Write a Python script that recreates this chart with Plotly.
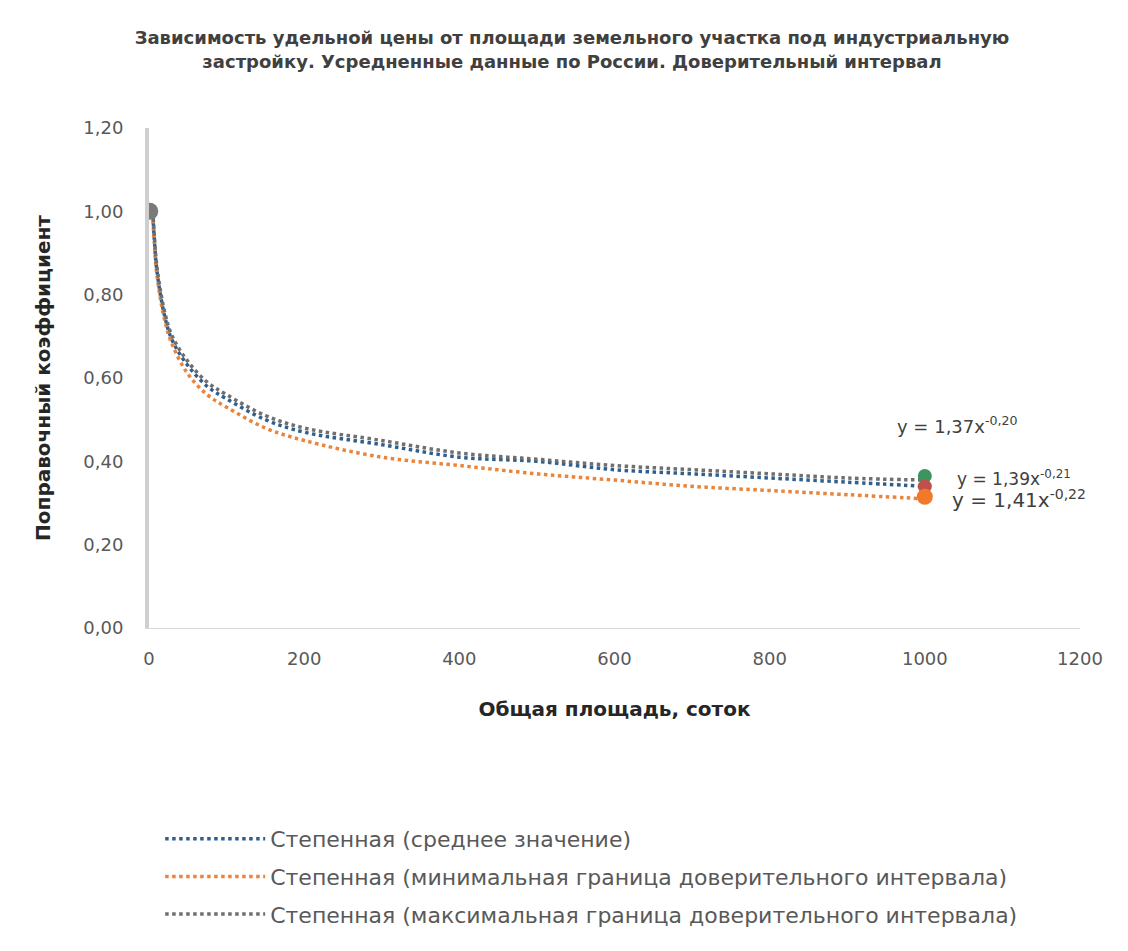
import plotly.graph_objects as go

# ---- data ----
x_trend = [5, 7, 10, 20, 30, 50, 75, 100, 150, 200, 300, 400, 500, 600, 700, 800, 900, 1000]
y_mean = [0.99, 0.93, 0.86, 0.75, 0.69, 0.63, 0.58, 0.55, 0.50, 0.47, 0.44, 0.41, 0.40, 0.38, 0.37, 0.36, 0.35, 0.34]
y_min = [0.98, 0.92, 0.85, 0.74, 0.68, 0.61, 0.56, 0.53, 0.48, 0.45, 0.41, 0.39, 0.37, 0.355, 0.34, 0.33, 0.32, 0.31]
y_max = [1.00, 0.94, 0.87, 0.76, 0.70, 0.64, 0.59, 0.56, 0.51, 0.48, 0.45, 0.42, 0.405, 0.39, 0.38, 0.37, 0.36, 0.355]

pts_x = [1, 1000, 1000, 1000]
pts_y = [1.00, 0.365, 0.34, 0.315]
pts_colors = ["#7A7A7A", "#3E9460", "#C0504D", "#F07A2A"]
pts_sizes = [17, 14, 14, 16]

series_names = [
    "Степенная (среднее значение)",
    "Степенная (минимальная граница доверительного интервала)",
    "Степенная (максимальная граница доверительного интервала)",
]
equations = ["y = 1,37x<sup>-0,20</sup>", "y = 1,39x<sup>-0,21</sup>", "y = 1,41x<sup>-0,22</sup>"]

title_text = ("Зависимость удельной цены от площади земельного участка под индустриальную<br>"
              "застройку. Усредненные данные по России. Доверительный интервал")
x_title = "Общая площадь, соток"
y_title = "Поправочный коэффициент"

FONT = "DejaVu Sans, Noto Sans, sans-serif"

fig = go.Figure()

line_specs = [(y_mean, "#2F5F8F"), (y_min, "#E9843A"), (y_max, "#6F6F6F")]
for i, ((ys, col), name) in enumerate(zip(line_specs, series_names)):
    fig.add_trace(go.Scatter(x=x_trend, y=ys, mode="lines", name=name,
                             line=dict(color=col, width=3.5, dash="dot", shape="spline"),
                             legendgroup=f"g{i}"))

# markers (data points), drawn on top
fig.add_trace(go.Scatter(x=pts_x, y=pts_y, mode="markers",
                         marker=dict(size=pts_sizes, color=pts_colors, opacity=1,
                                     line=dict(width=0)),
                         showlegend=False, hoverinfo="x+y"))

# equation labels
fig.add_annotation(x=961, y=0.487, text=equations[0], showarrow=False, xanchor="left",
                   font=dict(size=18, color="#404040", family=FONT))
fig.add_annotation(x=1039, y=0.36, text=equations[1], showarrow=False, xanchor="left",
                   font=dict(size=17, color="#404040", family=FONT))
fig.add_annotation(x=1033, y=0.31, text=equations[2], showarrow=False, xanchor="left",
                   font=dict(size=20, color="#404040", family=FONT))

fig.update_layout(
    width=1128, height=951,
    paper_bgcolor="white", plot_bgcolor="white",
    separators=", ",
    margin=dict(l=141, r=56, t=120, b=331, autoexpand=False),
    font=dict(family=FONT, size=16, color="#595959"),
    title=dict(text=title_text, x=0.5, xanchor="center", y=0.962, yanchor="top",
               font=dict(size=18, color="#404040", family=FONT, weight="bold")),
    xaxis=dict(range=[0, 1200], tickvals=[0, 200, 400, 600, 800, 1000, 1200],
               showgrid=False, zeroline=False, showline=True, linecolor="#D9D9D9", linewidth=1,
               ticks="", ticklabelstandoff=14, tickfont=dict(size=18, color="#595959"),
               title=dict(text=x_title, font=dict(size=20, color="#262626", weight="bold"),
                          standoff=34)),
    yaxis=dict(range=[0, 1.2], tickvals=[0, 0.2, 0.4, 0.6, 0.8, 1.0, 1.2], tickformat=".2f",
               showgrid=False, zeroline=False, showline=True, linecolor="#CFCFCF", linewidth=4,
               ticks="", ticklabelstandoff=18, tickfont=dict(size=18, color="#595959"),
               title=dict(text=y_title, font=dict(size=20, color="#262626", weight="bold"),
                          standoff=28)),
    legend=dict(x=0.012, xanchor="left", y=-0.38, yanchor="top", orientation="v",
                font=dict(size=22, color="#595959"), tracegroupgap=6, itemwidth=100,
                bgcolor="rgba(0,0,0,0)"),
)

fig.write_html("out.html")
